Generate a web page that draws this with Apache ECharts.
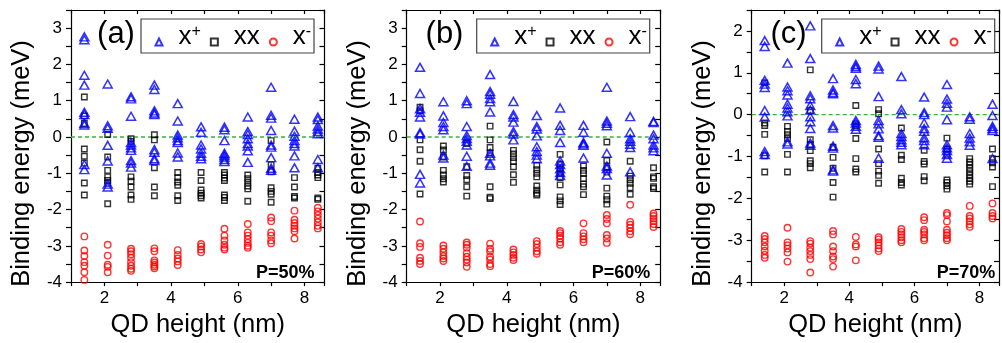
<!DOCTYPE html>
<html>
<head>
<meta charset="utf-8">
<script src="https://cdn.jsdelivr.net/npm/echarts@6/dist/echarts.min.js"></script>
<style>
html,body{margin:0;padding:0;background:#fff;}
#chart{width:1002px;height:343px;}
</style>
</head>
<body>
<div id="chart"></div>
<script>
// ---- data ----
const heights = [1.4, 2.1, 2.8, 3.5, 4.2, 4.9, 5.6, 6.3, 7.0, 7.7, 8.4];
const zeroLine = [[1, 0], [8.6, 0]];

const xPlusA = [
  [2.76, 2.68, 1.70, 1.43, 0.68, 0.62, 0.38, 0.33, -0.76, -0.90],
  [1.46, 0.31, 0.24, -0.23, -0.66, -1.3, -1.38],
  [1.11, 1.05, 0.57, -0.15, -0.22, -0.3, -0.37, -0.65, -0.72, -0.83],
  [1.43, 1.31, 0.72, 0.66, 0.62, -0.35, -0.42, -0.6, -0.65],
  [0.92, 0.44, 0.05, -0.02, -0.1, -0.15, -0.44, -0.55],
  [0.28, 0.13, -0.22, -0.33, -0.45, -0.53, -0.6],
  [0.27, 0.2, -0.1, -0.45, -0.5, -0.55, -0.62, -0.68],
  [0.55, 0.15, 0.07, -0.05, -0.18, -0.25, -0.38, -0.7],
  [1.37, 0.6, 0.52, 0.18, -0.22, -0.28, -0.57, -0.86, -0.92],
  [0.49, 0.16, 0.02, -0.1, -0.18, -0.25, -0.52, -0.85],
  [0.55, 0.48, 0.3, 0.22, 0.15, 0.09, -0.62, -0.85]
];
const xxA = [
  [1.1, 0.58, 0.37, -0.33, -0.53, -0.72, -1.27, -1.6],
  [0.07, -0.55, -0.92, -1.1, -1.2, -1.28, -1.84],
  [-0.05, -0.12, -1.1, -1.22, -1.38, -1.6, -1.72],
  [0.06, -0.08, -0.85, -1.38, -1.62],
  [-0.98, -1.12, -1.24, -1.33, -1.62, -1.75],
  [-0.98, -1.2, -1.46, -1.55, -1.62, -1.68],
  [-0.98, -1.05, -1.13, -1.2, -1.6, -1.67, -1.75],
  [-1.05, -1.15, -1.25, -1.35, -1.43, -1.77],
  [-0.1, -0.77, -0.96, -1.4, -1.5, -1.58, -1.8],
  [-1.12, -1.38, -1.64, -1.68],
  [-0.86, -0.98, -1.05, -1.12, -1.68, -1.72]
];
const xMinusA = [
  [-2.74, -3.13, -3.28, -3.45, -3.55, -3.73, -3.94],
  [-2.97, -3.27, -3.52, -3.58, -3.73],
  [-3.08, -3.15, -3.23, -3.33, -3.45, -3.55, -3.63, -3.69],
  [-3.07, -3.15, -3.4, -3.46, -3.52, -3.57, -3.62],
  [-3.12, -3.25, -3.35, -3.43, -3.53],
  [-2.95, -3.02, -3.1, -3.18],
  [-2.53, -2.72, -2.85, -2.97, -3.05, -3.1],
  [-2.4, -2.63, -2.72, -2.82, -2.92, -3.0, -3.05],
  [-2.22, -2.32, -2.63, -2.72, -2.85, -2.93],
  [-2.03, -2.28, -2.37, -2.45, -2.52, -2.6, -2.8],
  [-1.95, -2.05, -2.15, -2.25, -2.35, -2.45, -2.52]
];

const xPlusB = [
  [1.92, 1.2, 0.78, 0.68, 0.55, 0.12, 0.08, -1.03, -1.27],
  [0.97, 0.58, 0.4, 0.29, 0.2, -0.5, -0.58],
  [1.0, 0.92, 0.29, 0.04, -0.04, -0.12, -0.22, -0.53, -0.81],
  [1.72, 1.25, 1.18, 1.06, 0.97, 0.69, -0.45, -0.52, -0.72, -0.78],
  [0.98, 0.62, 0.55, 0.41, 0.15, 0.08, -0.08],
  [0.59, 0.29, 0.22, 0.03, -0.27, -0.4, -0.5, -0.6],
  [0.8, 0.32, 0.18, -0.15, -0.66, -0.76, -0.88, -0.98, -1.06],
  [0.32, 0.13, -0.15, -0.19, -0.23, -0.58],
  [1.37, 0.44, 0.38, 0.31, -0.45, -0.8, -0.87, -1.05],
  [0.56, 0.13, -0.05, -0.12, -0.2, -0.29, -0.96],
  [0.43, 0.4, 0.05, -0.05, -0.22, -0.3, -0.38]
];
const xxB = [
  [0.82, 0.72, -0.08, -0.35, -0.67, -1.57],
  [-0.25, -0.36, -0.55, -0.92, -1.05, -1.15, -1.24],
  [-0.18, -0.82, -1.06, -1.18, -1.37, -1.63],
  [0.3, -0.08, -0.29, -0.44, -1.37, -1.66, -1.7],
  [-0.37, -0.47, -0.57, -0.68, -0.82, -1.04, -1.25],
  [-0.78, -0.9, -1.0, -1.1, -1.35, -1.47, -1.55, -1.6],
  [-0.48, -0.75, -0.88, -1.0, -1.12, -1.32, -1.65, -1.76, -1.86],
  [-0.8, -0.92, -1.01, -1.14, -1.3, -1.37, -1.59],
  [-0.14, -0.65, -0.85, -0.97, -1.41, -1.63, -1.73, -1.85],
  [-0.67, -1.08, -1.18, -1.28, -1.4, -1.58],
  [-0.85, -1.1, -1.14, -1.37, -1.42]
];
const xMinusB = [
  [-2.33, -2.93, -3.03, -3.33, -3.42, -3.5],
  [-2.99, -3.08, -3.18, -3.28, -3.35, -3.42],
  [-2.91, -2.97, -3.05, -3.2, -3.3, -3.38, -3.46, -3.58],
  [-2.94, -3.08, -3.16, -3.3, -3.38, -3.5, -3.56],
  [-3.1, -3.18, -3.25, -3.33, -3.39],
  [-2.87, -2.95, -3.05, -3.15, -3.22],
  [-2.59, -2.65, -2.72, -2.8, -2.9, -2.97],
  [-2.38, -2.65, -2.74, -2.82, -2.9],
  [-2.15, -2.26, -2.38, -2.7, -2.8, -2.92],
  [-1.87, -2.34, -2.42, -2.5, -2.6, -2.68],
  [-2.11, -2.18, -2.25, -2.32, -2.4, -2.48]
];

const xPlusC = [
  [1.77, 1.63, 0.82, 0.73, 0.65, 0.1, -0.06, -0.88, -0.95],
  [1.23, 0.66, 0.57, 0.47, 0.25, 0.16, 0.07, -0.03, -0.65, -0.7],
  [2.12, 1.34, 0.45, 0.38, 0.22, 0.11, -0.05, -0.17, -0.33, -0.68, -0.73],
  [0.86, 0.59, 0.53, 0.5, -0.26, -0.32, -0.75, -0.8, -1.32, -1.35],
  [1.2, 1.15, 1.11, 0.84, 0.74, -0.14, -0.2, -0.28, -0.35],
  [1.16, 1.09, 0.43, -0.14, -0.22, -0.34, -0.5, -0.54, -1.04],
  [0.91, 0.12, 0.02, -0.45, -0.52, -0.6, -0.66, -0.72],
  [0.42, 0.05, 0.0, -0.2, -0.33, -0.4, -0.55, -0.62, -0.72],
  [0.72, 0.37, 0.27, 0.18, -0.12, -0.72, -0.79, -0.86, -0.95, -1.04],
  [-0.05, -0.11, -0.45, -0.56, -0.65, -0.73],
  [0.25, -0.02, -0.28, -0.33, -0.38, -1.05]
];
const xxC = [
  [0.76, -0.2, -0.26, -0.47, -0.98, -1.37],
  [-0.28, -0.4, -0.48, -0.57, -0.95, -1.37],
  [1.07, 0.1, -0.6, -0.72, -0.86, -1.1, -1.17, -1.27],
  [-0.78, -1.02, -1.28, -1.62, -1.97],
  [0.22, -0.22, -0.27, -0.57, -1.05, -1.3, -1.37],
  [0.12, 0.02, -0.82, -1.17, -1.35, -1.45, -1.64],
  [-0.32, -0.97, -1.07, -1.52, -1.62, -1.68],
  [-0.85, -1.12, -1.18, -1.48, -1.58],
  [-0.56, -0.82, -0.95, -1.56, -1.62, -1.7, -1.78],
  [-1.05, -1.13, -1.2, -1.28, -1.36, -1.44, -1.52, -1.59, -1.66],
  [-0.82, -1.05, -1.15, -1.25, -1.72]
];
const xMinusC = [
  [-2.9, -2.97, -3.05, -3.15, -3.25, -3.35, -3.42],
  [-2.7, -3.05, -3.12, -3.2, -3.29, -3.51],
  [-3.02, -3.08, -3.18, -3.26, -3.35, -3.45, -3.77],
  [-2.78, -2.86, -3.15, -3.26, -3.39, -3.45, -3.63],
  [-2.92, -3.1, -3.15, -3.48],
  [-2.93, -2.98, -3.05, -3.12, -3.2, -3.26],
  [-2.73, -2.8, -2.86, -2.93, -3.0, -3.05],
  [-2.45, -2.52, -2.75, -2.8, -2.86, -2.95, -3.0],
  [-2.35, -2.4, -2.55, -2.75, -2.82, -2.88, -2.95, -3.0],
  [-2.18, -2.42, -2.48, -2.55, -2.62, -2.68],
  [-2.12, -2.35, -2.42, -2.48]
];

const panelLabels = ['(a)', '(b)', '(c)'];
const powerLabels = ['P=50%', 'P=60%', 'P=70%'];
const seriesNames = ['x+', 'xx', 'x-'];
const xAxisTitle = 'QD height (nm)';
const yAxisTitle = 'Binding energy (meV)';

// ---- layout ----
const FONT = '"Liberation Sans", Arial, sans-serif';
const panels = [
  { left: 71,    yMax: 3.5, plus: xPlusA, xx: xxA, minus: xMinusA, labelX: 116,   yNameX: 22 },
  { left: 406.7, yMax: 3.5, plus: xPlusB, xx: xxB, minus: xMinusB, labelX: 444.5, yNameX: 357.8 },
  { left: 751.7, yMax: 2.5, plus: xPlusC, xx: xxC, minus: xMinusC, labelX: 788.5, yNameX: 702.5 }
];
const GRID_TOP = 10, GRID_H = 277, GRID_W = 253.5;

function toPoints(vals) {
  const out = [];
  heights.forEach((h, k) => (vals[k] || []).forEach(v => out.push([h, v])));
  return out;
}

const grids = [], xAxes = [], yAxes = [], series = [], legends = [], graphics = [];
const axisLine = { show: true, onZero: false, lineStyle: { color: '#000', width: 1.2 } };

panels.forEach((p, i) => {
  grids.push({ left: p.left, top: GRID_TOP, width: GRID_W, height: GRID_H });
  xAxes.push({
    gridIndex: i, type: 'value', position: 'bottom', min: 1, max: 8.6, interval: 1,
    axisLine, splitLine: { show: false },
    axisTick: { show: true, inside: false, length: 4, lineStyle: { color: '#000', width: 1.2 } },
    axisLabel: { margin: 8, fontSize: 17, color: '#000', fontFamily: FONT,
      formatter: v => (Math.abs(v % 2) < 1e-9 && Math.abs(v - Math.round(v)) < 1e-9) ? String(v) : '' },
    name: xAxisTitle, nameLocation: 'middle', nameGap: 22,
    nameTextStyle: { fontSize: 25.5, color: '#000', fontFamily: FONT }
  });
  xAxes.push({
    gridIndex: i, type: 'value', position: 'top', min: 1, max: 8.6, interval: 1,
    axisLine, splitLine: { show: false },
    axisTick: { show: true, inside: true, length: 4, lineStyle: { color: '#000', width: 1.2 } },
    axisLabel: { show: false }
  });
  yAxes.push({
    gridIndex: i, type: 'value', position: 'left', min: -4, max: p.yMax, interval: 0.5,
    axisLine, splitLine: { show: false },
    axisTick: { show: true, inside: false, length: 5, lineStyle: { color: '#000', width: 1.2 } },
    axisLabel: { margin: 9, fontSize: 17, color: '#000', fontFamily: FONT,
      formatter: v => Number.isInteger(v) ? String(v) : '' }
  });
  yAxes.push({
    gridIndex: i, type: 'value', position: 'right', min: -4, max: p.yMax, interval: 0.5,
    axisLine, splitLine: { show: false },
    axisTick: { show: true, inside: true, length: 5, lineStyle: { color: '#000', width: 1.2 } },
    axisLabel: { show: false }
  });

  const xi = 2 * i, yi = 2 * i;
  series.push({
    name: 'zero', type: 'line', xAxisIndex: xi, yAxisIndex: yi, data: zeroLine,
    symbol: 'none', silent: true, z: 1,
    lineStyle: { color: '#3fae3f', type: [4, 3], width: 1.3 },
    emphasis: { disabled: true }
  });
  series.push({
    name: 'xx', type: 'scatter', xAxisIndex: xi, yAxisIndex: yi,
    symbol: 'rect', symbolSize: 5.5, data: toPoints(p.xx),
    itemStyle: { color: 'rgba(255,255,255,0)', borderColor: '#000', borderWidth: 1.4 },
    z: 2
  });
  series.push({
    name: 'x+', type: 'scatter', xAxisIndex: xi, yAxisIndex: yi,
    symbol: 'triangle', symbolSize: [9, 8], data: toPoints(p.plus),
    itemStyle: { color: 'rgba(255,255,255,0)', borderColor: '#0000ff', borderWidth: 1.5 },
    z: 3
  });
  series.push({
    name: 'x-', type: 'scatter', xAxisIndex: xi, yAxisIndex: yi,
    symbol: 'circle', symbolSize: 6.5, data: toPoints(p.minus),
    itemStyle: { color: 'rgba(255,255,255,0)', borderColor: '#ff0000', borderWidth: 1.4 },
    z: 3
  });

  const off = p.left - 71;
  legends.push({
    data: seriesNames, orient: 'horizontal', left: 154.5 + off, top: 23.5, padding: 0,
    itemWidth: 7, itemHeight: 7, itemGap: 9, selectedMode: false,
    formatter: name => ({ 'x+': '{g| }{m|x}{s|+}', 'xx': '{g| }{m|xx}', 'x-': '{g| }{m|x}{s|-}' })[name],
    textStyle: {
      fontFamily: FONT, color: '#000',
      rich: {
        g: { width: 11, lineHeight: 37, fontSize: 10 },
        m: { fontSize: 26, lineHeight: 29, verticalAlign: 'top', fontFamily: FONT, color: '#000' },
        s: { fontSize: 16, lineHeight: 16, verticalAlign: 'top', fontFamily: FONT, color: '#000' }
      }
    }
  });

  graphics.push({
    type: 'rect', silent: true, z: 10,
    shape: { x: 141 + off, y: 19, width: 173, height: 34 },
    style: { fill: 'none', stroke: '#444', lineWidth: 1.2 }
  });
  graphics.push({
    type: 'text', silent: true, z: 10, x: p.labelX, y: 34,
    style: { text: panelLabels[i], fontSize: 31, fontFamily: FONT, fill: '#000',
      textAlign: 'center', textVerticalAlign: 'middle' }
  });
  graphics.push({
    type: 'text', silent: true, z: 10, x: p.left + GRID_W - 10, y: 273.5,
    style: { text: powerLabels[i], fontSize: 18, fontWeight: 'bold', fontFamily: FONT, fill: '#000',
      textAlign: 'right', textVerticalAlign: 'middle' }
  });
  graphics.push({
    type: 'text', silent: true, z: 10, x: p.yNameX, y: 163.5, rotation: Math.PI / 2,
    style: { text: yAxisTitle, fontSize: 25.5, fontFamily: FONT, fill: '#000',
      textAlign: 'center', textVerticalAlign: 'middle' }
  });
});

const chart = echarts.init(document.getElementById('chart'), null, { renderer: 'canvas' });
chart.setOption({
  animation: false,
  backgroundColor: '#fff',
  textStyle: { fontFamily: FONT },
  grid: grids,
  xAxis: xAxes,
  yAxis: yAxes,
  legend: legends,
  series: series,
  graphic: graphics
});
</script>
</body>
</html>
